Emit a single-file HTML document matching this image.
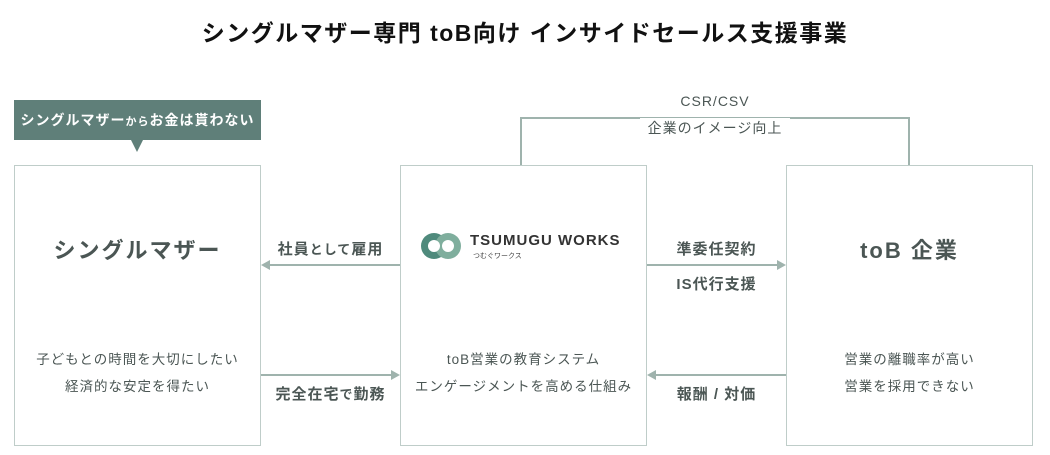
<!DOCTYPE html>
<html><head><meta charset="utf-8"><style>
body{margin:0;width:1050px;height:455px;background:#fff;position:relative;overflow:hidden;font-family:"Liberation Sans","Noto Sans CJK JP",sans-serif;color:#4b5654}
.a{position:absolute}
.box{position:absolute;border:1.5px solid #bfcdc9;background:#fff;box-sizing:border-box}
.t{position:absolute;text-align:center;white-space:nowrap}
.ln{position:absolute;background:#9fb3ad}
</style></head><body>
<div class="t" style="left:0;width:1050px;top:14px;font-size:23px;color:#111;font-weight:bold;letter-spacing:1.5px">シングルマザー専門 toB向け インサイドセールス支援事業</div>

<div class="a" style="left:14px;top:100px;width:247px;height:40px;background:#5f7f79"></div>
<div class="t" style="left:14px;width:247px;top:110px;font-size:14px;color:#fff;font-weight:bold;letter-spacing:1px">シングルマザー<span style="font-size:11px">から</span>お金は貰わない</div>
<div class="a" style="left:131px;top:140px;width:0;height:0;border-left:6px solid transparent;border-right:6px solid transparent;border-top:12px solid #5f7f79"></div>

<div class="ln" style="left:520px;top:117px;width:389px;height:1.5px"></div>
<div class="ln" style="left:520px;top:117px;width:1.5px;height:48px"></div>
<div class="ln" style="left:908px;top:117px;width:1.5px;height:48px"></div>
<div class="t" style="left:640px;width:150px;top:93px;font-size:14px;background:#fff;letter-spacing:1px">CSR/CSV</div>
<div class="t" style="left:640px;width:150px;top:118px;font-size:14px;background:#fff;letter-spacing:1px">企業のイメージ向上</div>

<div class="box" style="left:14px;top:165px;width:247px;height:281px"></div>
<div class="box" style="left:400px;top:165px;width:247px;height:281px"></div>
<div class="box" style="left:786px;top:165px;width:247px;height:281px"></div>

<div class="t" style="left:14px;width:247px;top:233px;font-size:22px;font-weight:bold;letter-spacing:2px">シングルマザー</div>
<div class="t" style="left:14px;width:247px;top:346px;font-size:13.5px;line-height:27px;letter-spacing:1px">子どもとの時間を大切にしたい<br>経済的な安定を得たい</div>

<svg class="a" style="left:420px;top:230px" width="42" height="32" viewBox="0 0 42 32">
<circle cx="14" cy="16" r="13" fill="#4f8a7c"/><circle cx="28" cy="16" r="13" fill="#7fae9d"/>
<circle cx="14" cy="16" r="6" fill="#fff"/><circle cx="28" cy="16" r="6" fill="#fff"/>
</svg>
<div class="a" style="left:470px;top:232px;font-size:15px;font-weight:bold;letter-spacing:1px;color:#333">TSUMUGU WORKS</div>
<div class="a" style="left:473px;top:251px;font-size:7px;color:#444">つむぐワークス</div>
<div class="t" style="left:400px;width:247px;top:346px;font-size:13.5px;line-height:27px;letter-spacing:1px">toB営業の教育システム<br>エンゲージメントを高める仕組み</div>

<div class="t" style="left:786px;width:247px;top:233px;font-size:22px;font-weight:bold;letter-spacing:2px">toB 企業</div>
<div class="t" style="left:786px;width:247px;top:346px;font-size:13.5px;line-height:27px;letter-spacing:1px">営業の離職率が高い<br>営業を採用できない</div>

<div class="ln" style="left:268px;top:264px;width:132px;height:1.5px"></div>
<div class="a" style="left:261px;top:260px;border-top:5px solid transparent;border-bottom:5px solid transparent;border-right:9px solid #9fb3ad"></div>
<div class="t" style="left:261px;width:139px;top:238px;font-size:15px;font-weight:bold;letter-spacing:1px">社員<span style="font-size:13px">として</span>雇用</div>
<div class="ln" style="left:261px;top:374px;width:131px;height:1.5px"></div>
<div class="a" style="left:391px;top:370px;border-top:5px solid transparent;border-bottom:5px solid transparent;border-left:9px solid #9fb3ad"></div>
<div class="t" style="left:261px;width:139px;top:383px;font-size:15px;font-weight:bold;letter-spacing:1px">完全在宅<span style="font-size:13px">で</span>勤務</div>

<div class="ln" style="left:647px;top:264px;width:131px;height:1.5px"></div>
<div class="a" style="left:777px;top:260px;border-top:5px solid transparent;border-bottom:5px solid transparent;border-left:9px solid #9fb3ad"></div>
<div class="t" style="left:647px;width:139px;top:238px;font-size:15px;font-weight:bold;letter-spacing:1px">準委任契約</div>
<div class="t" style="left:647px;width:139px;top:273px;font-size:15px;font-weight:bold;letter-spacing:1px">IS代行支援</div>
<div class="ln" style="left:654px;top:374px;width:132px;height:1.5px"></div>
<div class="a" style="left:647px;top:370px;border-top:5px solid transparent;border-bottom:5px solid transparent;border-right:9px solid #9fb3ad"></div>
<div class="t" style="left:647px;width:139px;top:383px;font-size:15px;font-weight:bold;letter-spacing:1px">報酬 / 対価</div>
</body></html>
